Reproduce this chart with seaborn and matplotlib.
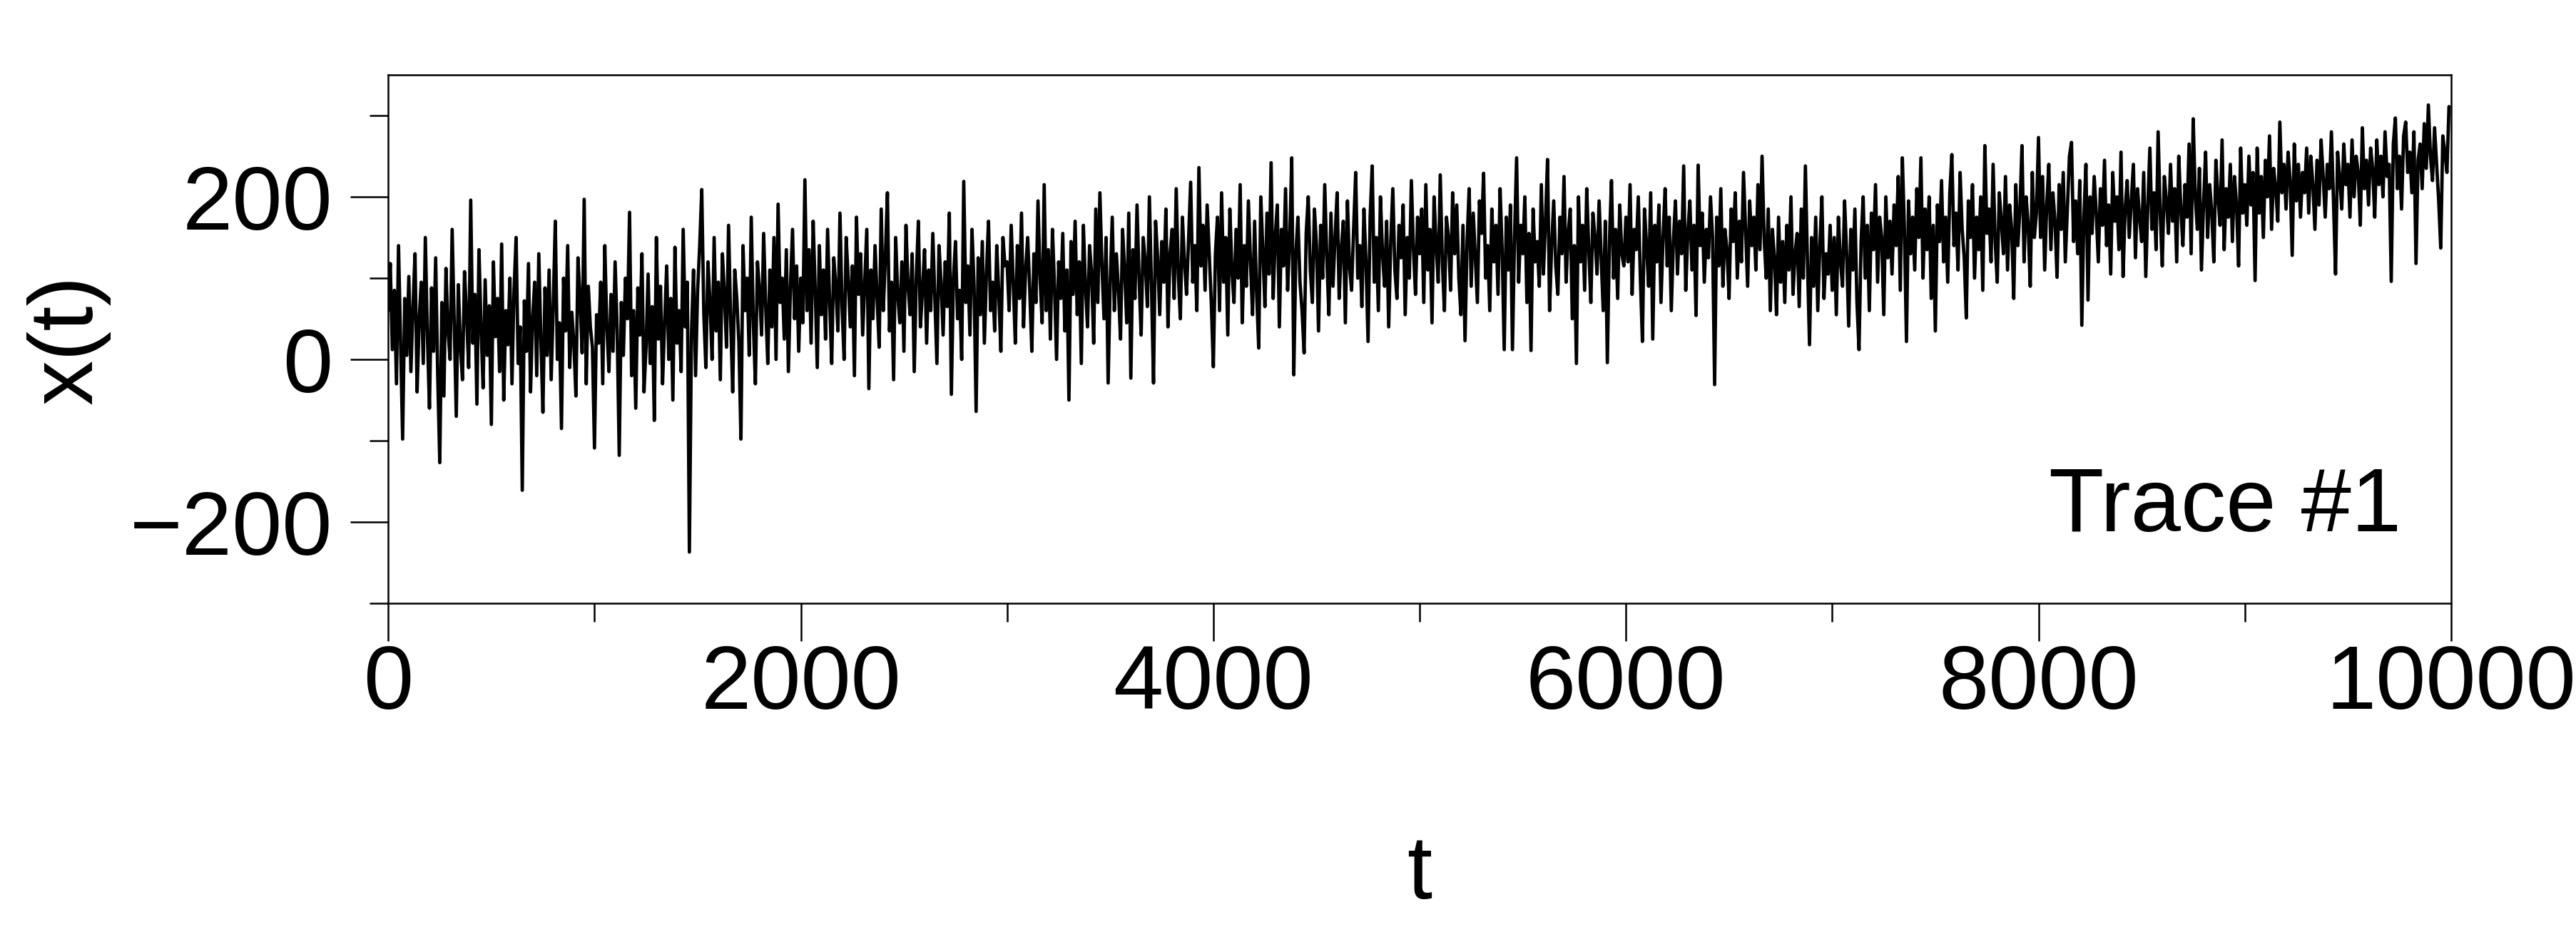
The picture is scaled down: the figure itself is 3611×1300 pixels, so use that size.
import numpy as np
import pandas as pd
import matplotlib
matplotlib.use("Agg")
import matplotlib.pyplot as plt
import seaborn as sns

# trace values, one sample every 10 time steps
x_0000 = [60, 118, 12, 85, -30, 140, 22, -98, 75, 5,
          102, -15, 64, 130, -40, 48, 95, -5, 150, 30,
          -60, 88, 10, 125, -20, -127, 70, -45, 112, 35,
          0, 160, 45, -70, 92, 15, -25, 108, 55, -10,
          196, 20, 80, -55, 135, 40, -35, 98, 5, 66,
          -80, 120, 28, 75, -15, 142, -50, 60, 18, 100,
          -30, 85, 150, -5, 40, -161, 72, 10, 118, -40,
          50, 95, -20, 130, 25, -65, 88, 5, 110, -25,
          65, 170, 0, 45, -85, 100, 35, 140, -10, 58,
          20, -45, 125, 75, 8, 197, -30, 90, 40, 15]
x_1000 = [-109, 55, 20, 95, -30, 140, 40, -15, 80, 10,
          120, 35, -118, 70, 5, 100, 50, 181, -20, 60,
          -60, 88, 30, 130, -40, 15, 105, -5, 65, -75,
          150, 25, 90, -30, 45, 115, 0, 75, -50, 138,
          20, 60, -15, 160, 40, 95, -237, 30, 110, -20,
          85, 140, 209, 55, -10, 120, 70, 0, 150, 35,
          95, -25, 130, 80, 15, 165, 50, -40, 110, 75,
          20, -98, 140, 60, 100, 5, 175, 45, -30, 120,
          85, 30, 155, 65, -5, 110, 40, 150, 0, 191,
          70, 100, 25, 135, -15, 90, 160, 50, 115, 10]
x_2000 = [100, 45, 221, 60, 135, 20, 170, 85, -10, 140,
          55, 110, 25, 160, 70, -5, 125, 90, 35, 180,
          65, 0, 150, 100, 40, 115, -20, 175, 80, 130,
          30, 95, 160, -36, 110, 50, 140, 75, 15, 185,
          60, 125, 205, 35, 95, -25, 150, 80, 45, 120,
          10, 165, 90, 55, 130, -15, 100, 170, 40, 85,
          135, 20, 110, 60, 155, 75, -5, 140, 95, 30,
          120, 65, 180, -43, 100, 145, 50, 85, 0, 219,
          70, 115, 30, 160, 90, -64, 125, 55, 145, 20,
          105, 170, 60, 95, 35, 140, 80, 10, 150, 115]
x_3000 = [120, 60, 165, 95, 20, 140, 75, 180, 40, 110,
          150, 85, 10, 130, 70, 195, 100, 45, 215, 60,
          135, 25, 160, 90, 0, 120, 75, 155, 35, 110,
          -50, 145, 80, 170, 55, 120, -5, 165, 90, 40,
          140, 105, 20, 185, 70, 205, 115, 50, 150, -29,
          95, 175, 60, 130, 85, 25, 160, 110, 45, 180,
          -23, 135, 75, 190, 100, 30, 150, 120, 65, 200,
          90, -29, 170, 125, 55, 145, 95, 185, 40, 130,
          160, 75, 210, 105, 50, 175, 120, 80, 150, 218,
          95, 140, 60, 236, 115, 165, 85, 190, 130, 70]
x_4000 = [-9, 130, 175, 60, 205, 95, 150, 30, 185, 110,
          70, 160, 100, 215, 45, 140, 90, 195, 120, 55,
          170, 80, 14, 200, 135, 65, 180, 105, 242, 75,
          150, 190, 40, 160, 115, 210, 85, 145, 248, -19,
          130, 175, 95, 60, 8, 155, 200, 110, 70, 185,
          140, 35, 165, 100, 215, 125, 55, 180, 90, 150,
          205, 75, 135, 170, 45, 195, 115, 85, 160, 230,
          100, 140, 65, 185, 120, 22, 175, 238, 95, 150,
          60, 200, 130, 90, 170, 40, 145, 210, 110, 75,
          165, 125, 190, 55, 150, 100, 220, 135, 80, 175]
x_5000 = [130, 185, 70, 215, 110, 160, 45, 200, 140, 95,
          227, 120, 60, 175, 150, 85, 205, 130, 190, 100,
          55, 165, 23, 145, 210, 90, 180, 125, 70, 195,
          155, 229, 100, 140, 60, 185, 120, 165, 80, 210,
          135, 12, 175, 110, 190, 12, 150, 248, 95, 165,
          130, 200, 70, 155, 11, 185, 120, 145, 90, 215,
          105, 170, 246, 60, 140, 195, 115, 80, 175, 130,
          225, 95, 155, 185, 50, 140, -5, 200, 120, 165,
          85, 210, 135, 70, 180, 150, 105, 195, 125, 60,
          170, -4, 145, 220, 100, 160, 75, 190, 130, 115]
x_6000 = [175, 120, 215, 80, 160, 135, 200, 100, 22, 185,
          140, 90, 205, 25, 165, 120, 190, 70, 150, 210,
          115, 175, 60, 145, 195, 105, 170, 130, 238, 85,
          155, 195, 110, 165, 54, 239, 140, 180, 95, 160,
          125, 200, 150, -31, 175, 115, 210, 90, 160, 135,
          75, 185, 145, 205, 100, 170, 120, 230, 160, 90,
          195, 140, 175, 110, 215, 135, 250, 150, 100, 185,
          60, 160, 125, 55, 175, 95, 145, 70, 165, 110,
          200, 80, 130, 155, 65, 185, 100, 238, 120, 18,
          150, 90, 175, 60, 140, 200, 75, 130, 105, 165]
x_7000 = [85, 150, 55, 175, 120, 90, 195, 130, 41, 160,
          110, 185, 70, 12, 145, 200, 100, 165, 60, 180,
          135, 215, 95, 175, 150, 55, 200, 125, 170, 105,
          190, 140, 225, 85, 248, 160, 22, 195, 130, 175,
          110, 210, 150, 248, 100, 185, 135, 200, 75, 165,
          35, 190, 145, 220, 120, 175, 95, 205, 252, 140,
          180, 110, 230, 160, 125, 51, 195, 150, 215, 100,
          175, 135, 200, 85, 263, 155, 185, 120, 240, 145,
          95, 205, 170, 130, 225, 110, 190, 160, 75, 215,
          140, 185, 263, 120, 200, 165, 90, 230, 150, 180]
x_8000 = [273, 150, 225, 110, 190, 240, 135, 205, 170, 101,
          215, 160, 230, 120, 185, 250, 267, 145, 195, 130,
          220, 42, 175, 240, 73, 200, 155, 225, 180, 120,
          210, 165, 245, 140, 190, 105, 230, 170, 200, 135,
          255, 102, 185, 220, 150, 195, 240, 125, 210, 175,
          145, 230, 102, 190, 260, 160, 205, 135, 280, 180,
          115, 225, 195, 155, 240, 170, 210, 120, 250, 185,
          140, 215, 175, 265, 130, 296, 200, 160, 235, 110,
          190, 255, 150, 215, 180, 120, 245, 200, 165, 270,
          135, 210, 175, 240, 145, 225, 190, 115, 260, 180]
x_9000 = [215, 165, 250, 190, 230, 97, 260, 180, 225, 150,
          245, 200, 275, 160, 235, 210, 170, 292, 205, 240,
          185, 255, 220, 128, 265, 195, 240, 175, 230, 205,
          260, 180, 250, 215, 160, 245, 190, 270, 225, 175,
          240, 210, 280, 195, 105, 255, 225, 185, 265, 215,
          240, 175, 270, 200, 250, 230, 165, 285, 210, 245,
          190, 260, 235, 175, 270, 215, 250, 200, 280, 225,
          240, 96, 265, 297, 210, 250, 185, 275, 292, 230,
          255, 205, 280, 118, 245, 265, 210, 290, 235, 313,
          250, 220, 285, 240, 195, 137, 275, 255, 230, 311]

x_vals = (x_0000 + x_1000 + x_2000 + x_3000 + x_4000 +
          x_5000 + x_6000 + x_7000 + x_8000 + x_9000)
t_vals = np.arange(len(x_vals)) * 10

x_major = [0, 2000, 4000, 6000, 8000, 10000]
x_minor = [1000, 3000, 5000, 7000, 9000]
y_major = [-200, 0, 200]
y_minor = [-300, -100, 100, 300]
y_labels = ["\u2212200", "0", "200"]

sns.set_theme(style="ticks")
plt.rcParams['font.family'] = ['Liberation Sans', 'DejaVu Sans']
plt.rcParams['text.color'] = 'black'
plt.rcParams['axes.labelcolor'] = 'black'

df = pd.DataFrame({"t": t_vals, "x": x_vals})

fig = plt.figure(figsize=(36.11, 13), dpi=100)
ax = fig.add_axes([0.1507, 0.3492, 0.8008, 0.5700])

sns.lineplot(data=df, x="t", y="x", color="black", linewidth=3.4,
             errorbar=None, ax=ax)

ax.set_xlim(0, 10000)
ax.set_ylim(-300, 350)

ax.set_xticks(x_major)
ax.set_xticklabels([str(v) for v in x_major])
ax.set_xticks(x_minor, minor=True)
ax.set_yticks(y_major)
ax.set_yticklabels(y_labels)
ax.set_yticks(y_minor, minor=True)

for s in ax.spines.values():
    s.set_linewidth(1.8)
    s.set_color("black")

ax.tick_params(which="major", length=38, width=1.8, labelsize=91,
               color="black", labelcolor="black")
ax.tick_params(which="minor", length=19, width=1.8, color="black")
ax.tick_params(axis="x", which="major", pad=2)
ax.tick_params(axis="y", which="major", pad=18)

ax.set_xlabel("t", fontsize=91, color="black")
ax.set_ylabel("x(t)", fontsize=91, color="black")
ax.xaxis.set_label_coords(0.5, -0.5587)
ax.xaxis.label.set_va("baseline")
ax.yaxis.set_label_coords(-0.1553, 0.5)
ax.yaxis.label.set_va("center")

ax.text(0.976, 0.136, "Trace #1", transform=ax.transAxes,
        ha="right", va="baseline", fontsize=91, color="black")

fig.savefig("out.png", dpi=100, facecolor="white")
